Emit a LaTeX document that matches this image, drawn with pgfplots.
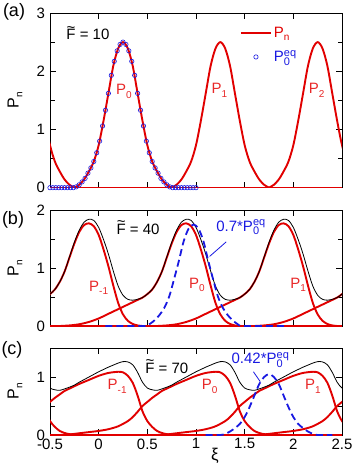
\documentclass[border=0pt]{standalone}
\usepackage{fontspec}
\setmainfont{Liberation Sans}
\usepackage{pgfplots}
\usepackage{pgfplotstable}
\pgfplotsset{compat=1.18}

\definecolor{pred}{RGB}{225,0,0}
\definecolor{pblue}{RGB}{25,25,225}
\definecolor{lred}{RGB}{232,40,40}

\newcommand{\sx}[1]{\raisebox{-0.45ex}{\fontsize{10}{10}\selectfont #1}}
\newcommand{\Peq}{P\rlap{\raisebox{-0.45ex}{\fontsize{11}{11}\selectfont 0}}\raisebox{0.65ex}{\fontsize{11}{11}\selectfont eq}}
\newcommand{\Ft}{\ooalign{F\cr\hidewidth\raisebox{0.5em}{\textasciitilde}\hidewidth\cr}}

% F = 10: shape of one P_n around its peak
\pgfplotstableread{
d v
-0.50 0
-0.45 0.05
-0.40 0.14
-0.35 0.28
-0.30 0.45
-0.25 0.73
-0.20 1.15
-0.15 1.62
-0.10 2.09
-0.05 2.39
0.00 2.50
0.05 2.39
0.10 2.09
0.15 1.62
0.20 1.15
0.25 0.73
0.30 0.45
0.35 0.28
0.40 0.14
0.45 0.05
0.50 0
}\shapeA

% P_0^eq, circles
\pgfplotstableread{
x v
-0.50 0
-0.47 0
-0.44 0
-0.41 0
-0.38 0
-0.35 0
-0.32 0
-0.29 0
-0.26 0
-0.23 0.015
-0.20 0.05
-0.17 0.10
-0.14 0.16
-0.11 0.25
-0.08 0.34
-0.05 0.45
-0.02 0.60
0.01 0.80
0.04 1.06
0.07 1.33
0.10 1.62
0.13 1.93
0.16 2.17
0.19 2.35
0.22 2.46
0.25 2.50
0.28 2.46
0.31 2.35
0.34 2.17
0.37 1.93
0.40 1.62
0.43 1.33
0.46 1.06
0.49 0.80
0.52 0.60
0.55 0.45
0.58 0.34
0.61 0.25
0.64 0.16
0.67 0.10
0.70 0.05
0.73 0.015
0.76 0
0.79 0
0.82 0
0.85 0
0.88 0
0.91 0
0.94 0
0.97 0
1.00 0
}\eqA

% F = 40
\pgfplotstableread{
d v
-1.30 0
-1.20 0.01
-1.10 0.03
-1.00 0.07
-0.90 0.13
-0.80 0.21
-0.70 0.29
-0.60 0.37
-0.55 0.41
-0.50 0.45
-0.45 0.49
-0.40 0.55
-0.35 0.63
-0.30 0.76
-0.25 0.94
-0.20 1.18
-0.15 1.42
-0.10 1.62
-0.05 1.74
0.00 1.77
0.05 1.72
0.10 1.57
0.15 1.32
0.20 1.03
0.25 0.70
0.30 0.40
0.35 0.20
0.40 0.09
0.45 0.035
0.50 0.01
0.55 0
}\shapeB

\pgfplotstableread{
d v
-0.50 0.46
-0.45 0.49
-0.40 0.55
-0.35 0.63
-0.30 0.76
-0.25 0.94
-0.20 1.19
-0.15 1.44
-0.10 1.65
-0.05 1.79
0.00 1.84
0.05 1.82
0.10 1.70
0.15 1.49
0.20 1.24
0.25 0.95
0.30 0.69
0.35 0.53
0.40 0.46
0.45 0.445
0.50 0.46
}\sumB

\pgfplotstableread{
x v
0.07 0
0.30 0
0.475 0
0.525 0.035
0.575 0.10
0.625 0.19
0.675 0.315
0.725 0.51
0.775 0.81
0.825 1.13
0.875 1.47
0.925 1.68
0.975 1.75
1.025 1.68
1.075 1.47
1.125 1.13
1.175 0.81
1.225 0.51
1.275 0.315
1.325 0.19
1.375 0.10
1.425 0.035
1.475 0
1.70 0
1.93 0
}\eqB

% F = 70
\pgfplotstableread{
d v
-1.60 0
-1.50 0.01
-1.40 0.03
-1.30 0.05
-1.20 0.07
-1.10 0.10
-1.00 0.15
-0.90 0.24
-0.85 0.31
-0.80 0.40
-0.75 0.50
-0.70 0.57
-0.65 0.64
-0.60 0.70
-0.55 0.76
-0.50 0.80
-0.40 0.88
-0.30 0.95
-0.20 1.02
-0.10 1.07
0.00 1.09
0.05 1.08
0.10 1.02
0.15 0.90
0.20 0.68
0.25 0.41
0.30 0.24
0.35 0.14
0.40 0.07
0.45 0.035
0.50 0.015
0.60 0
}\shapeC

\pgfplotstableread{
d v
-0.50 0.825
-0.45 0.86
-0.40 0.91
-0.35 0.955
-0.30 1.00
-0.25 1.045
-0.20 1.09
-0.15 1.13
-0.10 1.17
-0.05 1.205
0.00 1.24
0.05 1.265
0.10 1.26
0.15 1.21
0.20 1.08
0.25 0.91
0.30 0.81
0.35 0.78
0.40 0.77
0.45 0.795
0.50 0.825
}\sumC

\pgfplotstableread{
x v
1.10 0
1.25 0
1.30 0.02
1.35 0.06
1.40 0.12
1.45 0.19
1.50 0.31
1.55 0.48
1.60 0.68
1.65 0.88
1.70 1.00
1.75 1.05
1.80 1.00
1.85 0.88
1.90 0.68
1.95 0.48
2.00 0.31
2.05 0.19
2.10 0.12
2.15 0.06
2.20 0.02
2.25 0
2.40 0
}\eqC

\pgfplotsset{
  panel/.style={
    scale only axis, width=292pt,
    xmin=-0.5, xmax=2.5, xtick={-0.5,0,0.5,1,1.5,2,2.5},
    tick align=inside,
    major tick length=6pt, minor tick length=4.5pt,
    axis line style={line width=0.8pt},
    every tick/.style={black, line width=0.8pt},
    /pgf/number format/assume math mode=true,
    tick label style={font=\fontsize{15}{15}\selectfont},
    yticklabel style={xshift=-1.5pt},
    every axis y label/.style={at={(axis description cs:-0.12,0.5)}, rotate=90, anchor=center, font=\fontsize{16}{16}\selectfont},
    ylabel={P\sx{n}},
  },
  pn/.style={pred, line width=1.9pt, smooth},
  tot/.style={black, line width=0.8pt, smooth},
  eqd/.style={pblue, line width=1.8pt, dash pattern=on 7pt off 4pt, smooth},
  legline/.style={legend image code/.code={\draw[##1] (0pt,0pt) -- (30pt,0pt);}},
  legmark/.style={legend image code/.code={\draw[##1] plot coordinates {(15pt,0pt)};}},
}
\tikzset{
  lab/.style={text=lred, font=\fontsize{15}{15}\selectfont},
  blab/.style={text=pblue, font=\fontsize{15}{15}\selectfont},
}

\begin{document}
\begin{tikzpicture}
\path[use as bounding box] (0pt,0pt) rectangle (354pt,-468pt);

% (a)
\begin{axis}[panel, at={(50pt,-187.7pt)}, anchor=south west, height=174.7pt,
  ymin=0, ymax=3, ytick={0,1,2,3}, minor ytick={0.5,1.5,2.5}, xticklabels={},
  legend style={draw=none, fill=none, at={(axis cs:1.45,2.80)}, anchor=north west,
    font=\fontsize{15}{15}\selectfont, row sep=8pt, inner sep=0pt},
  legend cell align=left]
\addplot[pred, line width=1.9pt, forget plot] coordinates {(-0.5,0) (2.5,0)};
\pgfplotsinvokeforeach{-0.75,1.25,2.25}{
  \addplot[pn, forget plot] table[x expr=\thisrow{d}+#1, y=v] {\shapeA};
}
\addplot[pn, legline] table[x expr=\thisrow{d}+0.25, y=v] {\shapeA};
\addlegendentry{\textcolor{pred}{P\sx{n}}}
\addplot[only marks, mark=o, mark size=2.2pt, pblue, mark options={line width=0.6pt}, legmark]
  table[x=x, y=v] {\eqA};
\addlegendentry{\textcolor{pblue}{\Peq}}
\node[font=\fontsize{15}{15}\selectfont] at (axis cs:-0.11,2.63) {\Ft{} = 10};
\node[lab] at (axis cs:0.26,1.65) {P\sx{0}};
\node[lab] at (axis cs:1.24,1.67) {P\sx{1}};
\node[lab] at (axis cs:2.24,1.67) {P\sx{2}};
\end{axis}

% (b)
\begin{axis}[panel, at={(50pt,-326pt)}, anchor=south west, height=116pt,
  ymin=0, ymax=2, ytick={0,1,2}, minor ytick={0.5,1.5}, xticklabels={}]
\addplot[pred, line width=1.9pt] coordinates {(-0.5,0) (2.5,0)};
\pgfplotsinvokeforeach{-0.1,0.9,1.9,2.9}{
  \addplot[pn] table[x expr=\thisrow{d}+#1, y=v] {\shapeB};
}
\pgfplotsinvokeforeach{-0.1,0.9,1.9,2.9}{
  \addplot[tot] table[x expr=\thisrow{d}+#1, y=v] {\sumB};
}
\addplot[eqd] table[x=x, y=v] {\eqB};
\draw[pblue, line width=0.8pt] (axis cs:1.31,1.45) -- (axis cs:1.14,1.2);
\node[font=\fontsize{15}{15}\selectfont] at (axis cs:0.405,1.67) {\Ft{} = 40};
\node[lab] at (axis cs:0.0,0.66) {P\sx{-1}};
\node[lab] at (axis cs:1.01,0.71) {P\sx{0}};
\node[lab] at (axis cs:2.05,0.71) {P\sx{1}};
\node[blab] at (axis cs:1.46,1.70) {0.7*\Peq};
\end{axis}

% (c)
\begin{axis}[panel, at={(50pt,-435pt)}, anchor=south west, height=87pt,
  ymin=0, ymax=1.5, ytick={0,1}, minor ytick={0.5}]
\addplot[pred, line width=1.9pt] coordinates {(-0.5,0) (2.5,0)};
\pgfplotsinvokeforeach{-0.8,0.2,1.2,2.2,3.2}{
  \addplot[pn] table[x expr=\thisrow{d}+#1, y=v] {\shapeC};
}
\pgfplotsinvokeforeach{-0.8,0.2,1.2,2.2}{
  \addplot[tot] table[x expr=\thisrow{d}+#1, y=v] {\sumC};
}
\addplot[eqd] table[x=x, y=v] {\eqC};
\draw[pblue, line width=0.8pt] (axis cs:1.59,1.09) -- (axis cs:1.66,0.92);
\node[font=\fontsize{15}{15}\selectfont] at (axis cs:0.70,1.155) {\Ft{} = 70};
\node[lab] at (axis cs:0.19,0.84) {P\sx{-1}};
\node[lab] at (axis cs:1.14,0.84) {P\sx{0}};
\node[lab] at (axis cs:2.20,0.84) {P\sx{1}};
\node[blab] at (axis cs:1.66,1.29) {0.42*\Peq};
\end{axis}

\node[font=\fontsize{18}{18}\selectfont] at (14pt,-12pt) {(a)};
\node[font=\fontsize{18}{18}\selectfont] at (13pt,-220pt) {(b)};
\node[font=\fontsize{18}{18}\selectfont] at (12pt,-350pt) {(c)};
\node[font=\fontsize{17}{17}\selectfont] at (215pt,-456pt) {ξ};
\end{tikzpicture}
\end{document}
